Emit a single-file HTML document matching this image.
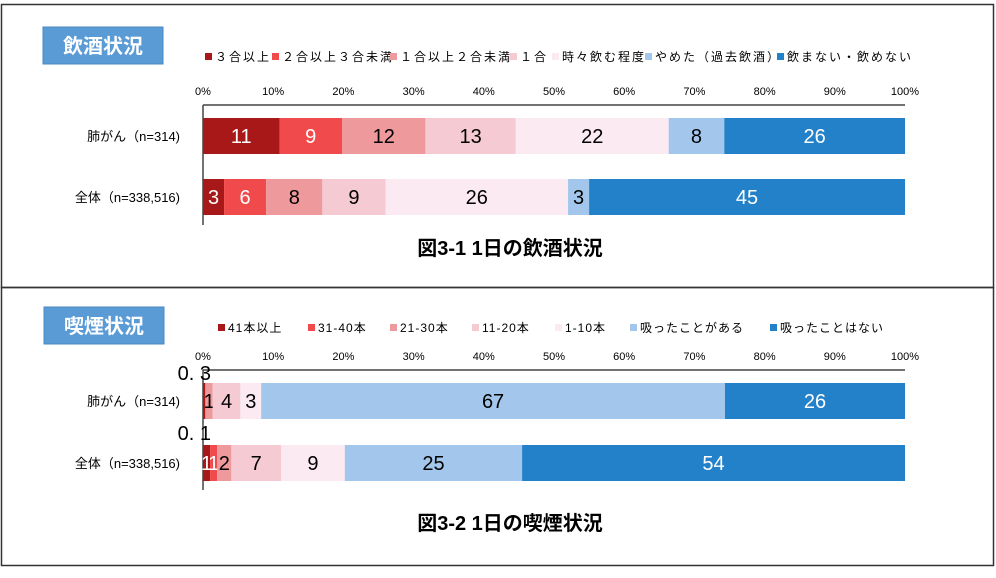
<!DOCTYPE html>
<html><head><meta charset="utf-8"><style>
html,body{margin:0;padding:0;background:#fff;}
svg{display:block;font-family:"Liberation Sans","Noto Sans CJK JP",sans-serif;}
.tick{font-family:"Liberation Sans Narrow","Liberation Sans",sans-serif;font-size:11px;fill:#000;}
.lbl{font-family:"Liberation Sans Narrow","Liberation Sans",sans-serif;font-size:20px;}
</style></head><body>
<svg id="c" width="996" height="578" viewBox="0 0 996 578">
<rect x="1.5" y="4.5" width="992" height="283" fill="none" stroke="#333" stroke-width="1.5"/>
<rect x="1.5" y="287.5" width="992" height="278" fill="none" stroke="#333" stroke-width="1.5"/>
</svg>
<script>
const ticks=["0%","10%","20%","30%","40%","50%","60%","70%","80%","90%","100%"];
const rows=["肺がん（n=314)","全体（n=338,516)"];
const drinkCats=["３合以上","２合以上３合未満","１合以上２合未満","１合","時々飲む程度","やめた（過去飲酒）","飲まない・飲めない"];
const drinkLung=[11,9,12,13,22,8,26];
const drinkAll=[3,6,8,9,26,3,45];
const smokeCats=["41本以上","31-40本","21-30本","11-20本","1-10本","吸ったことがある","吸ったことはない"];
const smokeLung=[0.3,0.1,1,4,3,67,26];
const smokeAll=[1,1,2,7,9,25,54];
const colors=["#A81818","#F04A4C","#EE9A9C","#F5CAD2","#FCEAF3","#A3C7EC","#2381C9"];
const white=[true,true,false,false,false,false,true];
const NS="http://www.w3.org/2000/svg";
const svg=document.getElementById('c');
function mk(tag,attrs,text){const e=document.createElementNS(NS,tag);for(const k in attrs)e.setAttribute(k,attrs[k]);if(text!==undefined)e.textContent=text;svg.appendChild(e);return e;}
const X0=203,X1=905;
function xs(p){return X0+(X1-X0)*p/100;}
function chart(o){
  let b=mk('rect',{x:o.bx,y:o.by,width:120,height:37,fill:'#5B9BD5',stroke:'#4A8AC4'});
  
  
  let t=mk('text',{x:o.bx+60,y:o.by+26,'text-anchor':'middle','font-size':'20','font-weight':'bold',fill:'#fff'},o.title);
  
  
  o.cats.forEach((c,i)=>{
    let r=mk('rect',{x:o.lx[i],y:o.ly-8,width:7,height:7,fill:colors[i]});
    
    
    let lt=mk('text',{x:o.lx[i]+10,y:o.ly,'font-size':'12','letter-spacing':o.ls,fill:'#000'},c);
    
    
  });
  ticks.forEach((tk,i)=>{
    let e=mk('text',{x:xs(i*10),y:o.ay-10,'text-anchor':'middle',class:'tick'},tk);
    
    
  });
  let ax=mk('line',{x1:X0,y1:o.ay,x2:X1,y2:o.ay,stroke:'#444','stroke-width':1.5});
  
  
  let ay=mk('line',{x1:X0,y1:o.ay,x2:X0,y2:o.ay+120,stroke:'#444','stroke-width':1.5});
  
  
  [o.lung,o.all].forEach((vals,r)=>{
    const y=o.rowY[r],h=36;
    let rl=mk('text',{x:180,y:y+h/2+5,'text-anchor':'end','font-size':'13',fill:'#000'},rows[r]);
    
    
    const tot=vals.reduce((a,b)=>a+b,0);let cum=0;
    vals.forEach((v,i)=>{
      const x=xs(cum/tot*100),w=xs((cum+v)/tot*100)-x;cum+=v;
      let s=mk('rect',{x:x,y:y,width:Math.max(w,0.5),height:h,fill:colors[i]});
      
      
      let lx=x+w/2,ly=y+h/2+7,anchor='middle',fill=white[i]?'#fff':'#000';
      if(w<4){fill='#000';
        if(r===1){lx=X0-6;anchor='end';}
        else if(i===0){lx=X0+8;ly=y-3;anchor='end';}
        else {lx=X0+8;ly=y+h+21;anchor='end';}
      }
      let l=mk('text',{x:lx,y:ly,'text-anchor':anchor,class:'lbl',fill:fill},String(v).replace('.','. '));
      
      
    });
  });
  let cap=mk('text',{x:510,y:o.capY,'text-anchor':'middle','font-size':'20','font-weight':'bold',fill:'#000'},o.caption);
  
  
}
chart({key:'drinking',title:'飲酒状況',bx:43,by:27,cats:drinkCats,lx:[205,272,390,510,552,645,777],ly:61,ls:'2',ay:105,rowY:[118,179],lung:drinkLung,all:drinkAll,capY:255,caption:'図3-1 1日の飲酒状況'});
chart({key:'smoking',title:'喫煙状況',bx:44,by:307,cats:smokeCats,lx:[218,308,390,472,555,630,770],ly:332,ls:'1',ay:370,rowY:[383,445],lung:smokeLung,all:smokeAll,capY:530,caption:'図3-2 1日の喫煙状況'});
</script>
</body></html>
